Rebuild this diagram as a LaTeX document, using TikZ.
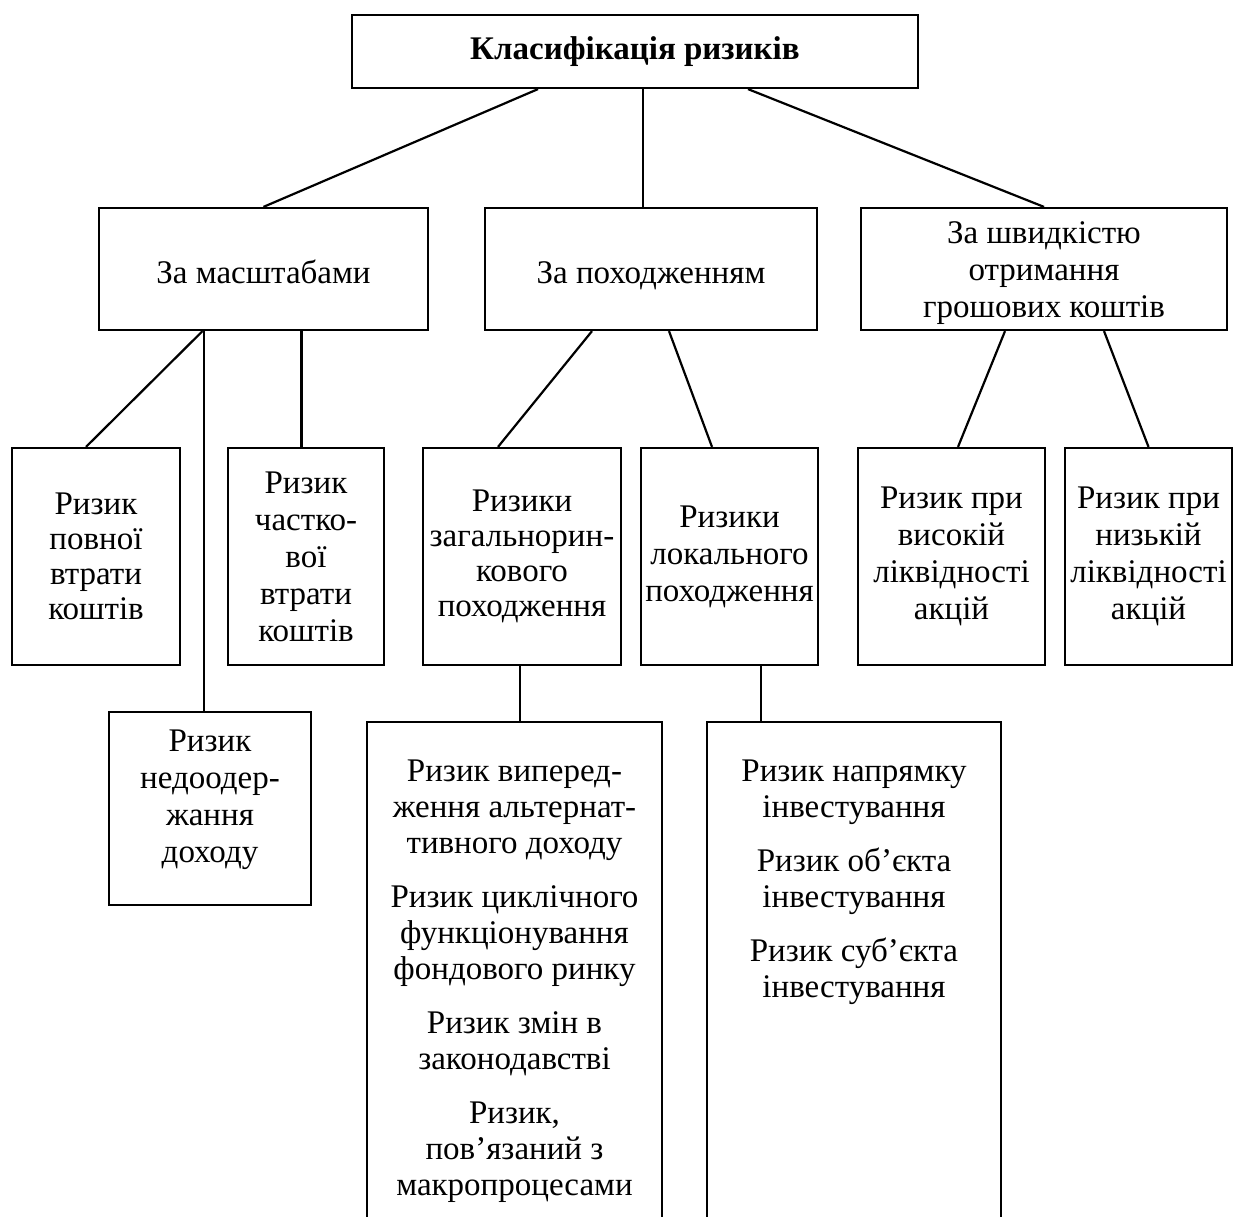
\documentclass[tikz,border=0pt]{standalone}
\usepackage{fontspec}
\setmainfont{Liberation Serif}
\usetikzlibrary{calc}
\newcommand{\fsz}{\fontsize{16.5}{17.5}\selectfont}
\newcommand{\fszb}{\fontsize{16.5}{18.5}\selectfont}
\newcommand{\fszc}{\fontsize{16.5}{18}\selectfont}
\newcommand{\tstrut}[1]{\rule{0pt}{#1}}
\newcommand{\bstrut}[1]{\rule[-#1]{0pt}{0pt}}
\begin{document}
\begin{tikzpicture}[x=0.5pt,y=-0.5pt,
  box/.style={draw, line width=1.1pt, align=center, inner sep=0pt, font=\fsz},
  txt/.style={align=center, inner sep=0pt, font=\fszc, anchor=north},
  ln/.style={line width=1.1pt}]
\useasboundingbox (0,0) rectangle (1235,1216);
\clip (0,0) rectangle (1235,1216);
% level 1
\node[box, minimum width=283pt, minimum height=36.5pt, font=\fsz\bfseries] (title) at (635,51.5) {Класифікація ризиків};
% level 2
\node[box, minimum width=164.5pt, minimum height=61pt] (a) at (263.5,269) {\rule[-4pt]{0pt}{22.5pt}За масштабами};
\node[box, minimum width=166pt, minimum height=61pt] (b) at (651,269) {\rule[-4pt]{0pt}{22.5pt}За походженням};
\node[box, minimum width=183pt, minimum height=61pt, font=\fszb] (c) at (1044,269) {\tstrut{15pt}За швидкістю\\отримання\\грошових коштів};
% level 3
\node[box, minimum width=84pt, minimum height=108.5pt] (l1) at (96,556.5) {Ризик\\повної\\втрати\\коштів};
\node[box, minimum width=78pt, minimum height=108.5pt, font=\fszb] (l2) at (306,556.5) {Ризик\\частко-\\вої\\втрати\\коштів};
\node[box, minimum width=99pt, minimum height=108.5pt] (l3) at (522,556.5) {Ризики\\загальнорин-\\кового\\походження};
\node[box, minimum width=88.5pt, minimum height=108.5pt, font=\fszb] (l4) at (729.5,556.5) {Ризики\\локального\\походження};
\node[box, minimum width=93.5pt, minimum height=108.5pt, font=\fszb] (l5) at (951.5,556.5) {Ризик при\\високій\\ліквідності\\акцій};
\node[box, minimum width=83.5pt, minimum height=108.5pt, font=\fszb] (l6) at (1148.5,556.5) {Ризик при\\низькій\\ліквідності\\акцій};
% level 4
\node[box, minimum width=101pt, minimum height=96.5pt, font=\fszb] (n) at (210,808.5) {Ризик\\недоодер-\\жання\\доходу\bstrut{12pt}};
\node[box, minimum width=147.5pt, minimum height=289pt] (bl) at (514.5,1011) {};
\node[box, minimum width=147pt, minimum height=289pt] (br) at (854,1011) {};
\node[txt] (blt) at ($(bl.north)+(0,39)$) {Ризик виперед-\\ження альтернат-\\тивного доходу\\[9pt]Ризик циклічного\\функціонування\\фондового ринку\\[9pt]Ризик змін в\\законодавстві\\[9pt]Ризик,\\пов’язаний з\\макропроцесами};
\node[txt] (brt) at ($(br.north)+(0,39)$) {Ризик напрямку\\інвестування\\[9pt]Ризик об’єкта\\інвестування\\[9pt]Ризик суб’єкта\\інвестування};
% connectors
\draw[ln] ($(title.south)+(-97,0)$) -- (a.north);
\coordinate (t2) at ($(title.south)+(8,0)$);
\draw[ln] (t2) -- (t2 |- b.north);
\draw[ln] ($(title.south)+(113,0)$) -- (c.north);
\draw[ln] ($(a.south)+(-61,0)$) -- ($(l1.north)+(-10,0)$);
\coordinate (a2) at ($(a.south)+(-59.5,0)$);
\draw[ln] (a2) -- (a2 |- n.north);
\coordinate (a3) at ($(a.south)+(38,0)$);
\draw[ln] (a3) -- (a3 |- l2.north);
\draw[ln] ($(b.south)+(-59,0)$) -- ($(l3.north)+(-24,0)$);
\draw[ln] ($(b.south)+(18,0)$) -- ($(l4.north)+(-17.5,0)$);
\draw[ln] ($(c.south)+(-39,0)$) -- ($(l5.north)+(6.5,0)$);
\draw[ln] ($(c.south)+(60,0)$) -- (l6.north);
\coordinate (b3) at ($(l3.south)+(-2,0)$);
\draw[ln] (b3) -- (b3 |- bl.north);
\coordinate (b4) at ($(l4.south)+(31.5,0)$);
\draw[ln] (b4) -- (b4 |- br.north);
\end{tikzpicture}
\end{document}
